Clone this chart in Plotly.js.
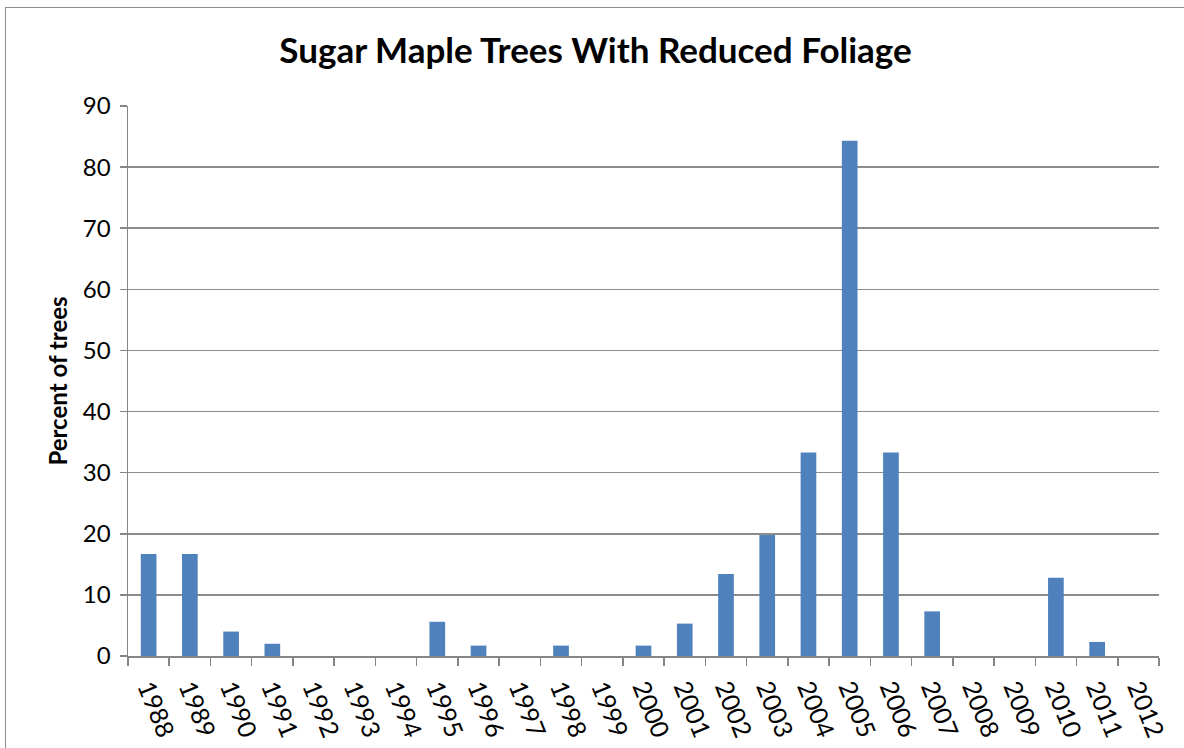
<!DOCTYPE html>
<html>
<head>
<meta charset="utf-8">
<script src="https://cdn.plot.ly/plotly-3.0.1.min.js"></script>
<style>
  html, body { margin: 0; padding: 0; background: #fff; overflow: hidden; }
  #frame { position: absolute; left: 5px; top: 7px; width: 1200px; height: 800px; border: 1.5px solid #8c8c8c; box-sizing: border-box; pointer-events: none; z-index: 5; }
  #chart { position: absolute; left: 0; top: 0; width: 1184px; height: 748px; }
</style>
</head>
<body>
<div id="chart"></div>
<div id="frame"></div>
<script>
const years = ["1988","1989","1990","1991","1992","1993","1994","1995","1996","1997","1998","1999","2000","2001","2002","2003","2004","2005","2006","2007","2008","2009","2010","2011","2012"];
const percentOfTrees = [16.7, 16.7, 4.0, 2.0, 0, 0, 0, 5.6, 1.7, 0, 1.7, 0, 1.7, 5.3, 13.4, 19.8, 33.3, 84.3, 33.3, 7.3, 0, 0, 12.8, 2.3, 0];
const yTicks = [0, 10, 20, 30, 40, 50, 60, 70, 80, 90];

const trace = {
  type: "bar",
  x: years,
  y: percentOfTrees,
  marker: { color: "#4f81bd", line: { color: "#7ea3d3", width: 0 } },
  hoverinfo: "x+y"
};

const layout = {
  width: 1184,
  height: 748,
  paper_bgcolor: "#ffffff",
  plot_bgcolor: "#ffffff",
  margin: { l: 128, r: 25, t: 106, b: 92 },
  bargap: 0.62,
  showlegend: false,
  font: { family: "Lato, 'Open Sans', sans-serif", color: "#000" },
  title: {
    text: "<b>Sugar Maple Trees With Reduced Foliage</b>",
    font: { family: "Lato, sans-serif", size: 35, color: "#000" },
    x: 0.503, xanchor: "center", xref: "container",
    y: 0.932, yanchor: "middle", yref: "container"
  },
  xaxis: {
    type: "category",
    tickson: "boundaries",
    ticks: "outside",
    ticklen: 8,
    tickwidth: 1.5,
    tickcolor: "#868686",
    showline: true,
    linecolor: "#868686",
    linewidth: 1.5,
    showgrid: false,
    tickangle: 68,
    ticklabelstandoff: 6,
    tickfont: { family: "Lato, sans-serif", size: 25, color: "#000" },
    fixedrange: true
  },
  yaxis: {
    range: [0, 90],
    tickvals: yTicks,
    ticktext: yTicks.map(String),
    ticks: "outside",
    ticklen: 7,
    tickwidth: 1.5,
    tickcolor: "#868686",
    showline: true,
    linecolor: "#868686",
    linewidth: 1.5,
    showgrid: true,
    gridcolor: "#8c8c8c",
    gridwidth: 1.5,
    zeroline: false,
    ticklabelstandoff: 4,
    tickfont: { family: "Lato, sans-serif", size: 24, color: "#000" },
    title: {
      text: "<b>Percent of trees</b>",
      font: { family: "Lato, sans-serif", size: 24, color: "#000" },
      standoff: 8
    },
    fixedrange: true
  }
};

Plotly.newPlot("chart", [trace], layout, { displayModeBar: false, staticPlot: true });
</script>
</body>
</html>
